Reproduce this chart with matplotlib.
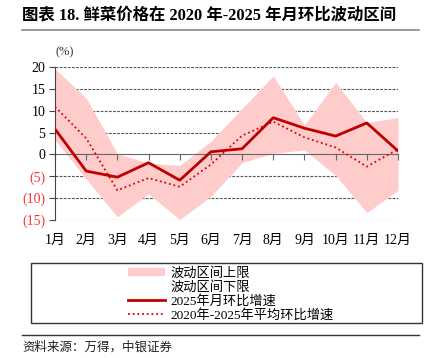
import numpy as np
import matplotlib.pyplot as plt
from matplotlib.patches import Rectangle
from matplotlib.lines import Line2D

plt.rcParams['font.family'] = ['Liberation Serif', 'Noto Sans CJK SC', 'DejaVu Sans']

months = ['1月', '2月', '3月', '4月', '5月', '6月', '7月', '8月', '9月', '10月', '11月', '12月']
band_upper = [19.6, 12.9, 0.2, -2.0, -2.5, 3.0, 10.5, 18.0, 6.7, 16.5, 7.3, 8.4]
band_lower = [3.3, -5.6, -14.3, -9.0, -14.9, -9.6, -1.9, 0.3, 1.0, -4.8, -13.3, -8.2]
growth_2025 = [5.8, -3.8, -5.2, -1.9, -5.9, 0.6, 1.3, 8.4, 6.0, 4.2, 7.2, 0.8]
avg_2020_2025 = [10.9, 3.7, -8.2, -5.4, -7.4, -2.3, 4.3, 7.5, 3.9, 1.6, -2.8, 1.2]
yticks = [20, 15, 10, 5, 0, -5, -10, -15]

fig = plt.figure(figsize=(4.31, 3.58), dpi=100)
ax = fig.add_axes([0.1276, 0.3855, 0.7958, 0.4273])

x = np.arange(len(months))
ax.fill_between(x, band_lower, band_upper, color='#FFCCCC', lw=0, zorder=1)
ax.plot(x, growth_2025, color='#C00000', lw=2, zorder=4)
ax.plot(x, avg_2020_2025, color='#E00000', lw=1.3, ls=(0, (1, 1.6)), zorder=3)

ax.set_xlim(0, 11)
ax.set_ylim(-15, 20)
ax.set_yticks(yticks)
for v in yticks:
    if v != 0:
        ax.axhline(v, color='#555555', lw=0.8, ls=(0, (2.5, 1.2)), zorder=0)
ax.set_yticklabels([str(v) if v >= 0 else '(%d)' % -v for v in yticks], fontsize=10)
for lab, v in zip(ax.get_yticklabels(), yticks):
    if v < 0:
        lab.set_color('#FF3333')
ax.tick_params(axis='y', length=4, width=0.8, color='#444444', pad=3)

for s in ['top', 'right']:
    ax.spines[s].set_visible(False)
ax.spines['left'].set_color('#444444')
ax.spines['bottom'].set_position(('data', 0))
ax.spines['bottom'].set_color('#666666')
ax.spines['bottom'].set_zorder(2)
ax.set_xticks(x)
ax.tick_params(axis='x', length=4, width=0.8, color='#666666', labelbottom=False)

sec = ax.secondary_xaxis(0)
sec.set_xticks(x)
sec.set_xticklabels(months, fontsize=10)
sec.tick_params(length=0, pad=10)
sec.spines['bottom'].set_visible(False)

# title and header
fig.text(0.051, 0.958, '图表 18. 鲜菜价格在 2020 年-2025 年月环比波动区间',
         fontsize=11.8, fontweight='bold', va='center',
         family=['Liberation Serif', 'Noto Sans CJK SC'])
fig.add_artist(Line2D([0.051, 0.972], [0.916, 0.916], color='#888888', lw=1.2))
fig.text(0.128, 0.853, '(%)', fontsize=9, va='center', color='#333333')

# legend
handles = [Line2D([], [], color='#FFCCCC', lw=6, solid_capstyle='butt'),
           Line2D([], [], color='white', lw=6),
           Line2D([], [], color='#C00000', lw=2),
           Line2D([], [], color='#E00000', lw=1.3, ls=(0, (1, 1.6)))]
labels = ['波动区间上限', '波动区间下限', '2025年月环比增速', '2020年-2025年平均环比增速']
leg = fig.legend(handles, labels, loc='upper left', bbox_to_anchor=(0.285, 0.268),
                 frameon=False, handlelength=2.8, handletextpad=0.4,
                 labelspacing=0.08, borderaxespad=0,
                 prop={'family': ['Liberation Serif', 'Noto Sans CJK SC'], 'size': 9.5})
fig.add_artist(Rectangle((0.071, 0.098), 0.908, 0.168, transform=fig.transFigure,
                         fill=False, edgecolor='#333333', lw=1.0))

fig.add_artist(Line2D([0.051, 0.972], [0.064, 0.064], color='#333333', lw=1.0))
fig.text(0.051, 0.03, '资料来源：万得，中银证券', fontsize=9, style='italic', va='center',
         color='#222222', family=['Noto Sans CJK SC'])

fig.savefig('out.png', dpi=100)
